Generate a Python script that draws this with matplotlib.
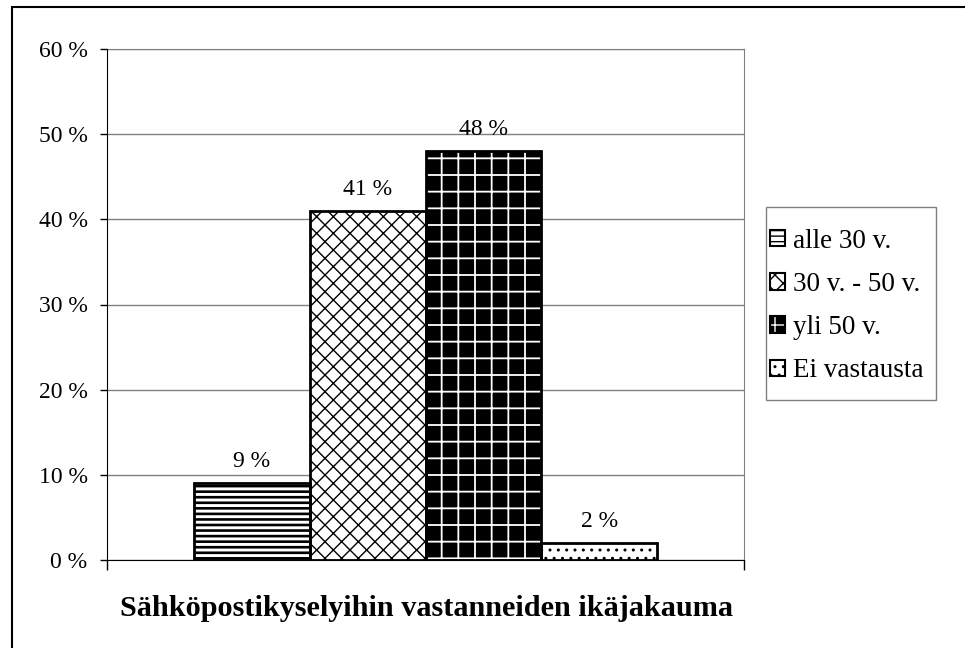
import matplotlib
matplotlib.use("Agg")
import matplotlib.pyplot as plt
from matplotlib.patches import Rectangle
import numpy as np

series = ["alle 30 v.", "30 v. - 50 v.", "yli 50 v.", "Ei vastausta"]
values = [9, 41, 48, 2]
value_labels = ["9 %", "41 %", "48 %", "2 %"]
yticks = [0, 10, 20, 30, 40, 50, 60]
ytick_labels = ["0 %", "10 %", "20 %", "30 %", "40 %", "50 %", "60 %"]
xlabel = "Sähköpostikyselyihin vastanneiden ikäjakauma"

plt.rcParams['font.family'] = ['Liberation Serif', 'DejaVu Serif']

fig = plt.figure(figsize=(9.65, 6.48), dpi=100)
W, H = 965, 648
ax = fig.add_axes([107 / W, 1 - 560 / H, (744 - 107) / W, (560 - 49) / H])

styles = [
    dict(face="white", hatchc="black", hatch="---", hlw=1.9),
    dict(face="white", hatchc="black", hatch="xx", hlw=1.0),
    dict(face="black", hatchc="white", hatch="+", hlw=1.3),
    dict(face="white", hatchc="black", hatch="..", hlw=1.0),
]


def set_hlw(p, lw):
    if hasattr(p, "set_hatch_linewidth"):
        p.set_hatch_linewidth(lw)


x = np.arange(len(values))
handles = []
for i, (v, s) in enumerate(zip(values, styles)):
    with plt.rc_context({"hatch.linewidth": s["hlw"]}):
        b = ax.bar(x[i], v, width=1.0, color=s["face"], edgecolor=s["hatchc"],
                   hatch=s["hatch"], linewidth=0, zorder=3)
        for p in b:
            set_hlw(p, s["hlw"])
        h1 = Rectangle((0, 0), 1, 1, facecolor=s["face"], edgecolor=s["hatchc"],
                       hatch=s["hatch"], linewidth=0)
        set_hlw(h1, s["hlw"])
    ax.bar(x[i], v, width=1.0, fill=False, edgecolor="black", linewidth=2, zorder=4)
    h2 = Rectangle((0, 0), 1, 1, fill=False, edgecolor="black", linewidth=1.5)
    handles.append((h1, h2))
    ax.annotate(value_labels[i], (x[i], v), xytext=(0, 8), textcoords="offset points",
                ha="center", va="bottom", fontsize=17)

ax.set_xlim(-1.25, 4.25)
ax.set_ylim(0, 60)
ax.set_yticks(yticks)
ax.set_yticklabels(ytick_labels, fontsize=17)
ax.set_xticks([-1.25, 4.25])
ax.set_xticklabels([])
ax.tick_params(axis="y", direction="out", length=5, width=1, pad=9)
ax.tick_params(axis="x", direction="out", length=7, width=1)
ax.yaxis.grid(True, color="#808080", linewidth=1, zorder=0)
ax.set_axisbelow(True)
for sp in ["top", "right"]:
    ax.spines[sp].set_color("#808080")
for sp in ["left", "bottom"]:
    ax.spines[sp].set_color("black")
    ax.spines[sp].set_zorder(5)

fig.text(427 / W, 1 - 608 / H, xlabel, ha="center", va="center",
         fontsize=21.8, fontweight="bold")

# legend frame (layout box)
fig.patches.append(Rectangle((766 / W, 1 - 400 / H), (936 - 766) / W, (400 - 207) / H,
                             transform=fig.transFigure, facecolor="white",
                             edgecolor="#808080", linewidth=1))
leg = fig.legend(handles, series, loc="upper left",
                 bbox_to_anchor=(759 / W, 1 - 218 / H), fontsize=19.5,
                 frameon=False,
                 handlelength=0.55, handleheight=0.55, handletextpad=0.3,
                 labelspacing=0.67, borderpad=0.4, borderaxespad=0)

fig.patches.append(Rectangle((12 / W, -0.02), 1.1, 1 - 7 / H + 0.02,
                             transform=fig.transFigure, fill=False,
                             edgecolor="black", linewidth=1.5))

fig.savefig("out.png", dpi=100)
